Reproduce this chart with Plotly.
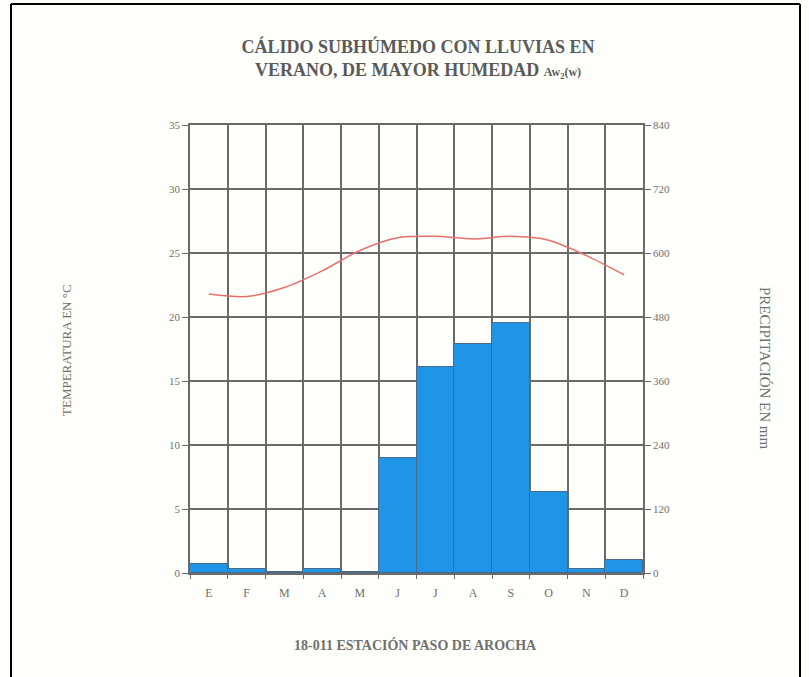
import plotly.graph_objects as go

months = ["E", "F", "M", "A", "M", "J", "J", "A", "S", "O", "N", "D"]
temperature_c = [21.8, 21.6, 22.3, 23.6, 25.2, 26.2, 26.3, 26.1, 26.3, 26.0, 24.8, 23.3]
precip_mm = [16, 8, 2, 8, 2, 216, 387, 429, 468, 151, 7, 24]
temp_ticks = [0, 5, 10, 15, 20, 25, 30, 35]
precip_ticks = [0, 120, 240, 360, 480, 600, 720, 840]

W, H = 809, 677
L, R, T, B = 190, 643, 125, 573

def px(x):
    return (x - L) / (R - L)

def py(y):
    return (B - y) / (B - T)

idx = list(range(len(months)))
serif = "Liberation Serif"
grey = "#6f6f6f"
gridc = "#6a6a6a"

fig = go.Figure()
fig.add_trace(go.Bar(
    x=idx, y=precip_mm, yaxis="y2", width=1.0,
    marker=dict(color="#1f95e8", line=dict(color="#4a6a88", width=1)),
    showlegend=False, hoverinfo="skip",
))
fig.add_trace(go.Scatter(
    x=idx, y=temperature_c, mode="lines", yaxis="y",
    line=dict(color="#e8706a", width=1.5, shape="spline", smoothing=0.8),
    showlegend=False, hoverinfo="skip",
))

fig.update_layout(
    width=W, height=H,
    margin=dict(l=L, r=W - R, t=T, b=H - B, autoexpand=False),
    paper_bgcolor="#fffffb",
    plot_bgcolor="#fffffb",
    bargap=0,
    font=dict(family=serif, color=grey, size=10),
    title=dict(
        text="<b>CÁLIDO SUBHÚMEDO CON LLUVIAS EN<br>VERANO, DE MAYOR HUMEDAD </b><span style='font-size:12px'><b>Aw<sub>2</sub>(w)</b></span>",
        x=418 / W, xanchor="center",
        y=1 - 53 / H, yanchor="top",
        font=dict(family=serif, size=18, color="#5a5a5a"),
    ),
    xaxis=dict(
        range=[-0.5, 11.5],
        tickmode="array", tickvals=idx, ticktext=months,
        ticks="", showgrid=False, zeroline=False,
        showline=True, linecolor=gridc, linewidth=1.5, mirror=True,
        tickfont=dict(family=serif, size=12, color=grey),
        ticklabelstandoff=8,
        minor=dict(
            tickmode="array", tickvals=[i - 0.5 for i in range(13)],
            showgrid=True, gridcolor=gridc, gridwidth=1.5,
            ticks="outside", ticklen=4, tickcolor=gridc,
        ),
    ),
    yaxis=dict(
        range=[0, 35], tickmode="array", tickvals=temp_ticks,
        showgrid=True, gridcolor=gridc, gridwidth=1.5, zeroline=False,
        showline=True, linecolor=gridc, linewidth=1.5,
        ticks="outside", ticklen=6, tickcolor=gridc,
        tickfont=dict(family=serif, size=11, color=grey),
    ),
    yaxis2=dict(
        range=[0, 840], tickmode="array", tickvals=precip_ticks,
        overlaying="y", side="right", showgrid=False, zeroline=False,
        showline=True, linecolor=gridc, linewidth=1.5,
        ticks="outside", ticklen=6, tickcolor=gridc,
        tickfont=dict(family=serif, size=11, color=grey),
    ),
    annotations=[
        dict(text="TEMPERATURA EN °C", textangle=-90,
             x=px(66), y=py(350), xref="paper", yref="paper",
             xanchor="center", yanchor="middle",
             showarrow=False, font=dict(family=serif, size=13, color=grey)),
        dict(text="PRECIPITACIÓN EN mm", textangle=90,
             x=px(765), y=py(368), xref="paper", yref="paper",
             xanchor="center", yanchor="middle",
             showarrow=False, font=dict(family=serif, size=15, color=grey)),
        dict(text="<b>18-011 ESTACIÓN PASO DE AROCHA</b>",
             x=px(415), y=py(645), xref="paper", yref="paper",
             xanchor="center", yanchor="middle",
             showarrow=False, font=dict(family=serif, size=14, color=grey)),
    ],
    shapes=[
        dict(type="line", xref="paper", yref="paper",
             x0=px(11), x1=px(11), y0=py(4), y1=py(700),
             line=dict(color="black", width=2)),
        dict(type="line", xref="paper", yref="paper",
             x0=px(11), x1=px(800), y0=py(4), y1=py(4),
             line=dict(color="black", width=2)),
        dict(type="line", xref="paper", yref="paper",
             x0=px(800), x1=px(800), y0=py(4), y1=py(700),
             line=dict(color="black", width=2)),
    ],
)

fig.write_html("out.html", config={"displayModeBar": False},
               post_script="document.body.style.margin='0';")
